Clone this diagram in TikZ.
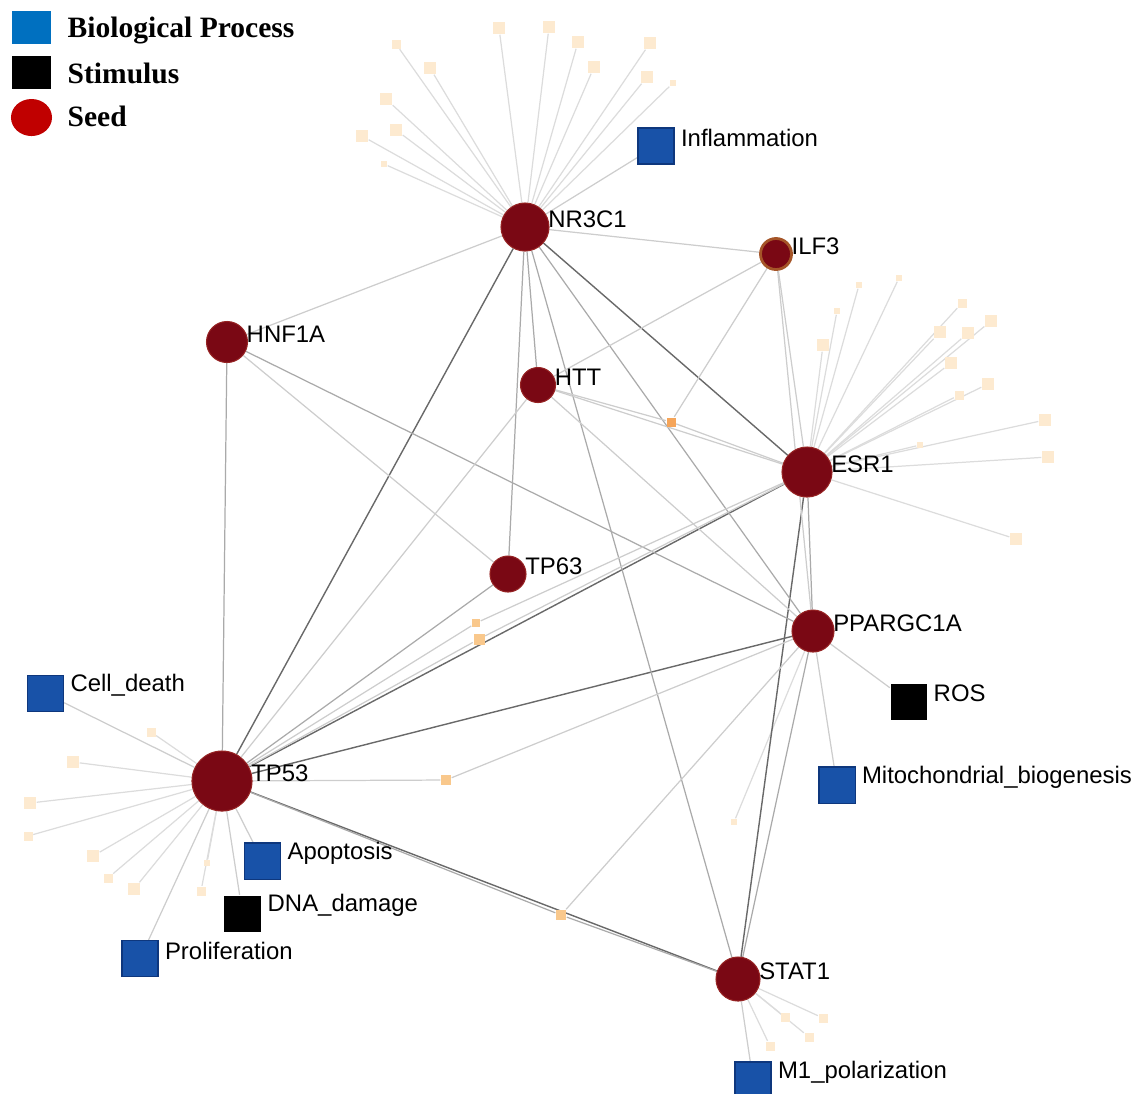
\documentclass[tikz,border=0pt]{standalone}
\usepackage{fontspec}
\setmainfont{Liberation Sans}
\newfontfamily\legendfont{Liberation Serif}
\usetikzlibrary{positioning, backgrounds, shapes.geometric}

\definecolor{seedred}{RGB}{122,8,20}
\definecolor{seedrim}{RGB}{150,35,35}
\definecolor{ilfrim}{RGB}{165,85,40}
\definecolor{procblue}{RGB}{24,82,168}
\definecolor{procrim}{RGB}{14,55,125}
\definecolor{leafcream}{RGB}{253,234,208}
\definecolor{linkorange}{RGB}{249,200,140}
\definecolor{hotorange}{RGB}{245,165,90}
\definecolor{legblue}{RGB}{0,112,192}
\definecolor{legred}{RGB}{192,0,0}
\definecolor{darkline}{RGB}{105,105,105}
\definecolor{midline}{RGB}{170,170,170}
\definecolor{lightline}{RGB}{205,205,205}
\definecolor{leafline}{RGB}{220,220,220}

\begin{document}
\begin{tikzpicture}[x=0.01cm, y=-0.01cm,
  seed/.style={circle, fill=seedred, draw=seedrim, line width=0.3pt, inner sep=0pt},
  proc/.style={rectangle, fill=procblue, draw=procrim, line width=0.3pt, minimum size=0.36cm, inner sep=0pt},
  stim/.style={rectangle, fill=black, minimum size=0.36cm, inner sep=0pt},
  leaf/.style={rectangle, fill=leafcream, inner sep=0pt},
  link/.style={rectangle, fill=linkorange, inner sep=0pt},
  lab/.style={font=\fontsize{6.8}{8}\selectfont, inner sep=0pt, yshift=0.08cm, xshift=-0.02cm},
  plab/.style={lab, xshift=0.078cm},
  legtext/.style={font=\legendfont\bfseries\fontsize{8.4}{10}\selectfont, inner sep=0pt},
  darkedge/.style={draw=darkline, line width=0.4pt},
  midedge/.style={draw=midline, line width=0.35pt},
  lightedge/.style={draw=lightline, line width=0.35pt},
  leafedge/.style={draw=leafline, line width=0.35pt}]

  \useasboundingbox (0,0) rectangle (1137,1093);

  % Legend
  \node[rectangle, fill=legblue, minimum width=0.38cm, minimum height=0.33cm, inner sep=0pt] (legproc) at (31.5,27.5) {};
  \node[rectangle, fill=black, minimum width=0.38cm, minimum height=0.33cm, inner sep=0pt] (legstim) at (31.5,72.5) {};
  \node[ellipse, fill=legred, minimum width=0.41cm, minimum height=0.37cm, inner sep=0pt] (legseed) at (31.5,117.5) {};
  \node[legtext, anchor=base west] (legproctext) at (67,37) {Biological Process};
  \node[legtext, anchor=base west] (legstimtext) at (67,83) {Stimulus};
  \node[legtext, anchor=base west] (legseedtext) at (67,126) {Seed};

  % Seed genes
  \node[seed, minimum size=0.48cm, label={[lab]east:NR3C1}] (nr3c1) at (525,227) {};
  \node[seed, minimum size=0.31cm, draw=ilfrim, line width=0.8pt, label={[lab]east:ILF3}] (ilf3) at (776,254) {};
  \node[seed, minimum size=0.41cm, label={[lab]east:HNF1A}] (hnf1a) at (227,342) {};
  \node[seed, minimum size=0.35cm, label={[lab]east:HTT}] (htt) at (538,385) {};
  \node[seed, minimum size=0.50cm, label={[lab]east:ESR1}] (esr1) at (807,472) {};
  \node[seed, minimum size=0.36cm, label={[lab]east:TP63}] (tp63) at (508,574) {};
  \node[seed, minimum size=0.42cm, label={[lab]east:PPARGC1A}] (ppargc1a) at (813,631) {};
  \node[seed, minimum size=0.60cm, label={[lab]east:TP53}] (tp53) at (222,781) {};
  \node[seed, minimum size=0.44cm, label={[lab]east:STAT1}] (stat1) at (738,979) {};

  % Processes and stimuli
  \node[proc, label={[plab]east:Inflammation}] (inflammation) at (656,146) {};
  \node[proc, label={[plab]east:Cell\_death}] (celldeath) at (45.5,693.5) {};
  \node[proc, label={[plab]east:Apoptosis}] (apoptosis) at (262.5,861) {};
  \node[stim, label={[plab]east:DNA\_damage}] (dnadamage) at (242.5,913.5) {};
  \node[proc, label={[plab]east:Proliferation}] (proliferation) at (140,958.5) {};
  \node[stim, label={[plab]east:ROS}] (ros) at (908.5,701.5) {};
  \node[proc, label={[plab]east:Mitochondrial\_biogenesis}] (mito) at (837,785) {};
  \node[proc, label={[plab]east:M1\_polarization}] (m1) at (753,1080) {};

  % Linker nodes
  \node[link, fill=hotorange, minimum size=0.09cm] (link1) at (671,422) {};
  \node[link, minimum size=0.08cm] (link2) at (476,623) {};
  \node[link, minimum size=0.11cm] (link3) at (479,639) {};
  \node[link, minimum size=0.10cm] (link4) at (446,780) {};
  \node[link, minimum size=0.10cm] (link5) at (561,915) {};

  % Neighbour leaves
  \foreach \x/\y/\s [count=\i] in {396/44/9, 430/68/12, 386/99/12, 396/130/12, 362/136/12, 384/164/6,
      499/28/12, 549/27/12, 578/42/12, 594/67/12, 650/43/12, 647/77/12, 673/83/6}
    \node[leaf, minimum size=\s*0.01cm] (nrleaf\i) at (\x,\y) {};
  \foreach \x/\y/\s [count=\i] in {899/278/6, 859/285/6, 837/311/6, 823/345/12, 962/303/9, 991/321/12,
      940/332/12, 968/333/12, 951/363/12, 988/384/12, 959/395/9, 1045/420/12, 920/445/6, 1048/457/12, 1016/539/12}
    \node[leaf, minimum size=\s*0.01cm] (esrleaf\i) at (\x,\y) {};
  \foreach \x/\y/\s [count=\i] in {151/732/9, 73/762/12, 30/803/12, 28/836/9, 93/856/12, 108/878/9,
      134/889/12, 207/863/6, 201/891/9}
    \node[leaf, minimum size=\s*0.01cm] (tpleaf\i) at (\x,\y) {};
  \foreach \x/\y/\s [count=\i] in {785/1017/9, 823/1018/9, 809/1037/9, 770/1046/9}
    \node[leaf, minimum size=\s*0.01cm] (statleaf\i) at (\x,\y) {};
  \node[leaf, minimum size=0.06cm] (pgcleaf) at (734,822) {};

  \begin{scope}[on background layer]
    % Leaf links
    \foreach \i in {1,...,13} \draw[leafedge] (nr3c1) -- (nrleaf\i);
    \foreach \i in {1,...,15} \draw[leafedge] (esr1) -- (esrleaf\i);
    \foreach \i in {1,...,9} \draw[leafedge] (tp53) -- (tpleaf\i);
    \foreach \i in {1,...,4} \draw[leafedge] (stat1) -- (statleaf\i);
    \draw[leafedge] (ppargc1a) -- (pgcleaf);

    % Term links
    \draw[lightedge] (nr3c1) -- (inflammation);
    \foreach \t in {celldeath, apoptosis, dnadamage, proliferation}
      \draw[lightedge] (tp53) -- (\t);
    \draw[lightedge] (ppargc1a) -- (ros);
    \draw[lightedge] (ppargc1a) -- (mito);
    \draw[lightedge] (stat1) -- (m1);

    % Strong links
    \draw[darkedge] (nr3c1) -- (tp53);
    \draw[darkedge] (nr3c1) -- (esr1);
    \draw[darkedge] (tp53) -- (esr1);
    \draw[darkedge] (tp53) -- (stat1);
    \draw[darkedge] (esr1) -- (stat1);
    \draw[darkedge] (tp53) -- (ppargc1a);

    % Medium links
    \draw[midedge] (nr3c1) -- (htt);
    \draw[midedge] (nr3c1) -- (tp63);
    \draw[midedge] (nr3c1) -- (stat1);
    \draw[midedge] (nr3c1) -- (ppargc1a);
    \draw[midedge] (hnf1a) -- (tp53);
    \draw[midedge] (hnf1a) -- (ppargc1a);
    \draw[midedge] (ppargc1a) -- (stat1);
    \draw[midedge] (esr1) -- (ppargc1a);
    \draw[midedge] (tp53) -- (tp63);
    \draw[lightedge] (htt) -- (ppargc1a);
    \draw[midedge] (tp53) -- (link5);
    \draw[midedge] (link5) -- (stat1);

    % Weak links
    \draw[lightedge] (nr3c1) -- (hnf1a);
    \draw[lightedge] (nr3c1) -- (ilf3);
    \draw[lightedge] (ilf3) -- (htt);
    \draw[lightedge] (ilf3) -- (link1);
    \draw[lightedge] (ilf3) -- (esr1);
    \draw[lightedge] (ilf3) -- (ppargc1a);
    \draw[lightedge] (htt) -- (link1);
    \draw[lightedge] (link1) -- (esr1);
    \draw[lightedge] (htt) -- (esr1);
    \draw[lightedge] (hnf1a) -- (tp63);
    \draw[lightedge] (tp53) -- (htt);
    \draw[lightedge] (tp53) -- (link2);
    \draw[lightedge] (link2) -- (esr1);
    \draw[lightedge] (tp53) -- (link3);
    \draw[lightedge] (link3) -- (esr1);
    \draw[lightedge] (tp53) -- (link4);
    \draw[lightedge] (link4) -- (ppargc1a);
    \draw[lightedge] (link5) -- (ppargc1a);
  \end{scope}
\end{tikzpicture}
\end{document}
